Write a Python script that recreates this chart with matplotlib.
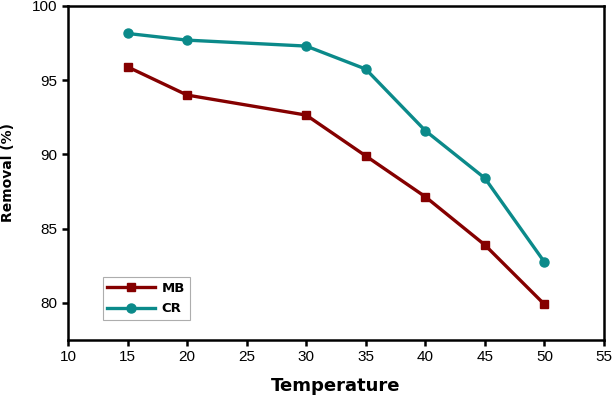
import matplotlib
matplotlib.use("Agg")
import matplotlib.pyplot as plt

temperature = [15, 20, 30, 35, 40, 45, 50]
mb_removal = [95.9, 94.0, 92.65, 89.9, 87.15, 83.9, 79.9]
cr_removal = [98.15, 97.7, 97.3, 95.75, 91.6, 88.4, 82.75]
x_ticks = [10, 15, 20, 25, 30, 35, 40, 45, 50, 55]
y_ticks = [80, 85, 90, 95, 100]

plt.rcParams['font.family'] = ['Liberation Sans', 'DejaVu Sans']

fig = plt.figure(figsize=(6.14, 3.97), dpi=100)
ax = fig.add_axes([0.1107, 0.1436, 0.873, 0.8413])

ax.plot(temperature, mb_removal, color='#850000', lw=2.4, marker='s', ms=6, label='MB')
ax.plot(temperature, cr_removal, color='#0B8A8A', lw=2.4, marker='o', ms=6.5, label='CR')

ax.set_xlim(10, 55)
ax.set_ylim(77.5, 100)
ax.set_xticks(x_ticks)
ax.set_yticks(y_ticks)
for s in ax.spines.values():
    s.set_linewidth(1.8)
ax.tick_params(axis='both', which='both', direction='out', width=1.8, length=4,
               labelsize=11, top=False, right=False)

ax.set_xlabel('Temperature', fontsize=13, fontweight='heavy', family='DejaVu Sans', labelpad=9)
ax.set_ylabel('Removal (%)', fontsize=10, fontweight='heavy', family='DejaVu Sans')
ax.yaxis.set_label_coords(-0.098, 0.5)

leg = ax.legend(loc='lower left', bbox_to_anchor=(0.065, 0.06), borderaxespad=0,
                prop={'family': 'DejaVu Sans', 'weight': 'heavy', 'size': 9.5},
                fancybox=False, frameon=True, handlelength=3.6, handletextpad=0.5,
                borderpad=0.35, labelspacing=0.55)
leg.get_frame().set_edgecolor('#999999')
leg.get_frame().set_linewidth(0.8)

fig.savefig('out.png', dpi=100)
